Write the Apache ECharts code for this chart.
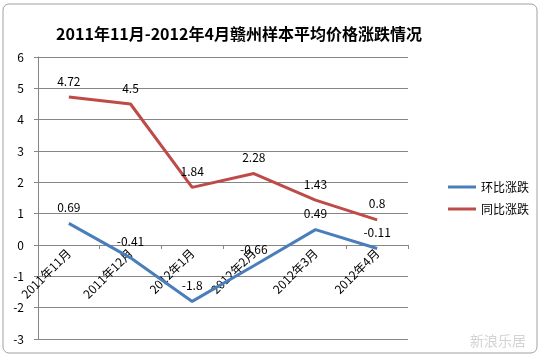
<!DOCTYPE html>
<html><head><meta charset="utf-8">
<script src="https://cdn.jsdelivr.net/npm/echarts@6/dist/echarts.min.js"></script>
<style>html,body{margin:0;padding:0;background:#fff}#c{width:542px;height:359px}</style>
</head><body><div id="c"></div>
<script>
var categories = ['2011年11月','2011年12月','2012年1月','2012年2月','2012年3月','2012年4月'];
var hbValues = [0.69, -0.41, -1.8, -0.66, 0.49, -0.11];
var tbValues = [4.72, 4.5, 1.84, 2.28, 1.43, 0.8];
var seriesNames = ['环比涨跌','同比涨跌'];
var titleText = '2011年11月-2012年4月赣州样本平均价格涨跌情况';

var font = '"Noto Sans CJK SC","Noto Sans",sans-serif';
var chart = echarts.init(document.getElementById('c'));
chart.setOption({
  animation: false,
  backgroundColor: '#fff',
  textStyle: {fontFamily: font},
  title: {text: titleText, left: 234, top: 21, textAlign: 'center',
    textStyle: {fontSize: 16, fontWeight: 'bold', color: '#000', fontFamily: font}},
  legend: {orient: 'vertical', left: 443, top: 176, itemWidth: 28, itemHeight: 3, itemGap: 10,
    icon: 'rect', textStyle: {fontSize: 12, color: '#000'}, data: seriesNames},
  grid: {left: 38, right: 134, top: 57, bottom: 20, containLabel: false, outerBoundsMode: 'none'},
  xAxis: {type: 'category', data: categories, boundaryGap: true, position: 'bottom', offset: -94,
    axisLine: {onZero: false, lineStyle: {color: '#868686'}},
    axisTick: {show: true, length: 4, lineStyle: {color: '#868686'}},
    axisLabel: {rotate: 45, fontSize: 12, color: '#000', margin: 6, interval: 0}},
  yAxis: {type: 'value', min: -3, max: 6, interval: 1,
    axisLine: {show: true, lineStyle: {color: '#868686'}},
    axisTick: {show: true, length: 4, lineStyle: {color: '#868686'}},
    axisLabel: {fontSize: 12, color: '#000', margin: 14},
    splitLine: {lineStyle: {color: '#868686', width: 1}}},
  series: [
    {name: seriesNames[0], type: 'line', data: hbValues, symbol: 'circle', symbolSize: 0.1,
     lineStyle: {color: '#4A7EBB', width: 3}, itemStyle: {color: '#4A7EBB'},
     label: {show: true, position: 'top', distance: 10, fontSize: 12, color: '#000'}},
    {name: seriesNames[1], type: 'line', data: tbValues, symbol: 'circle', symbolSize: 0.1,
     lineStyle: {color: '#BE4B48', width: 3}, itemStyle: {color: '#BE4B48'},
     label: {show: true, position: 'top', distance: 10, fontSize: 12, color: '#000'}}
  ],
  graphic: [
    {type: 'rect', shape: {x: 3, y: 4, width: 534, height: 349, r: 6}, silent: true, z: -1,
     style: {fill: 'none', stroke: '#a0a0a0', lineWidth: 1}},
    {type: 'text', left: 470, top: 334, silent: true,
     style: {text: '新浪乐居', fill: 'rgba(200,200,200,0.8)', fontSize: 14, fontFamily: font}}
  ]
});
</script></body></html>
